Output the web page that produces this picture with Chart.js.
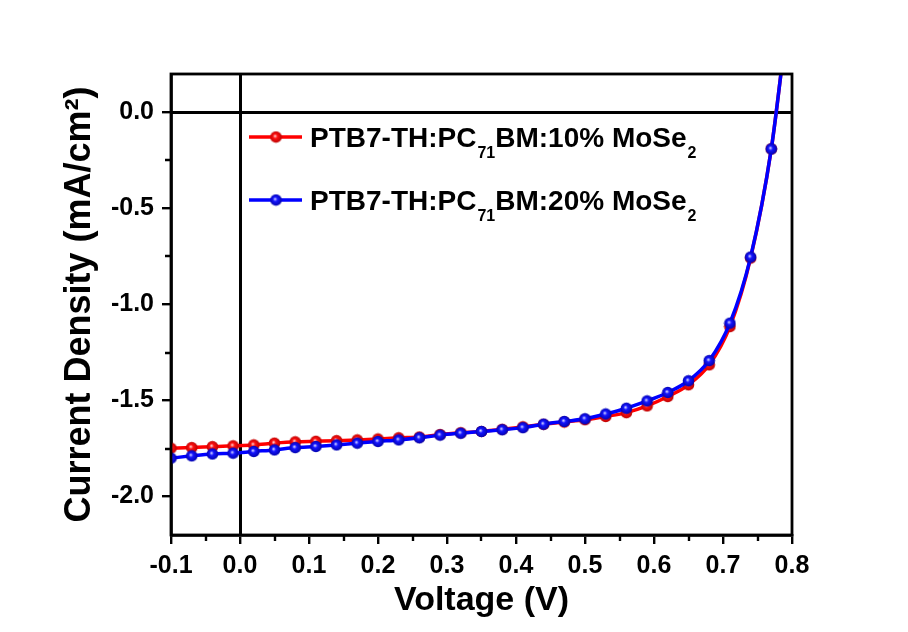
<!DOCTYPE html>
<html>
<head>
<meta charset="utf-8">
<title>J-V curves</title>
<script src="https://cdn.jsdelivr.net/npm/chart.js@4/dist/chart.umd.min.js"></script>
<style>
  html, body { margin: 0; padding: 0; background: #fff; }
  #wrap { width: 908px; height: 632px; }
</style>
</head>
<body>
<div id="wrap"><canvas id="jvChart" width="908" height="632"></canvas></div>
<script>
// Voltage sweep (V) and current density (mA/cm2) for both devices
const voltage = [-0.1, -0.07, -0.04, -0.01, 0.02, 0.05, 0.08, 0.11, 0.14, 0.17, 0.20, 0.23, 0.26, 0.29, 0.32,
  0.35, 0.38, 0.41, 0.44, 0.47, 0.50, 0.53, 0.56, 0.59, 0.62, 0.65, 0.68, 0.71, 0.74, 0.77, 0.79];
const jMoSe2_10 = [-1.748, -1.745, -1.740, -1.736, -1.731, -1.722, -1.715, -1.712, -1.709, -1.705, -1.700, -1.694,
  -1.690, -1.677, -1.668, -1.661, -1.650, -1.637, -1.624, -1.612, -1.600, -1.583, -1.563, -1.528, -1.479, -1.418,
  -1.314, -1.115, -0.758, -0.190, 0.38];
const jMoSe2_20 = [-1.800, -1.788, -1.778, -1.774, -1.765, -1.757, -1.745, -1.739, -1.731, -1.722, -1.713, -1.705,
  -1.694, -1.680, -1.670, -1.661, -1.652, -1.641, -1.623, -1.609, -1.595, -1.570, -1.540, -1.502, -1.458, -1.397,
  -1.292, -1.097, -0.753, -0.190, 0.38];

const xTicks = [-0.1, 0.0, 0.1, 0.2, 0.3, 0.4, 0.5, 0.6, 0.7, 0.8];
const yTicks = [-2.0, -1.5, -1.0, -0.5, 0.0];
const xMinor = [-0.05, 0.05, 0.15, 0.25, 0.35, 0.45, 0.55, 0.65, 0.75];
const yMinor = [-1.75, -1.25, -0.75, -0.25];

// legend text split into normal / subscript pieces
const legend10 = ['PTB7-TH:PC', '71', 'BM:10% MoSe', '2'];
const legend20 = ['PTB7-TH:PC', '71', 'BM:20% MoSe', '2'];

const FONT = '"Liberation Sans", Arial, sans-serif';

// shaded ball used as marker
function ballMarker(light, mid, dark) {
  const c = document.createElement('canvas');
  c.width = 13; c.height = 13;
  const g = c.getContext('2d');
  const grad = g.createRadialGradient(5.5, 5.5, 0.3, 6.5, 6.5, 6.5);
  grad.addColorStop(0, light);
  grad.addColorStop(0.3, mid);
  grad.addColorStop(1, dark);
  g.fillStyle = grad;
  g.beginPath();
  g.arc(6.5, 6.5, 5.8, 0, Math.PI * 2);
  g.fill();
  return c;
}
const redBall = ballMarker('#ffd0d0', '#ff1010', '#b00000');
const blueBall = ballMarker('#d0d0ff', '#1414ff', '#0000a0');

function toPoints(ys) {
  return voltage.map(function (v, i) { return { x: v, y: ys[i] }; });
}
const lastIdx = voltage.length - 1;
function markerRadius(ctx) {
  return ctx.dataIndex === lastIdx ? 0 : 6;
}

// frame, zero lines and minor ticks
const framePlugin = {
  id: 'frame',
  beforeDatasetsDraw(chart) {
    const { ctx, chartArea: a, scales } = chart;
    ctx.save();
    ctx.strokeStyle = '#000';
    ctx.lineWidth = 3;
    const x0 = Math.round(scales.x.getPixelForValue(0)) + 0.5;
    const y0 = Math.round(scales.y.getPixelForValue(0)) + 0.5;
    ctx.beginPath();
    ctx.moveTo(x0, a.top); ctx.lineTo(x0, a.bottom);
    ctx.moveTo(a.left, y0); ctx.lineTo(a.right, y0);
    ctx.stroke();
    ctx.restore();
  },
  afterDatasetsDraw(chart) {
    const { ctx, chartArea: a, scales } = chart;
    ctx.save();
    ctx.strokeStyle = '#000';
    ctx.lineWidth = 2.8;
    ctx.strokeRect(a.left, a.top, a.right - a.left, a.bottom - a.top);
    ctx.lineWidth = 2.4;
    ctx.beginPath();
    xMinor.forEach(function (v) {
      const px = Math.round(scales.x.getPixelForValue(v));
      ctx.moveTo(px, a.bottom); ctx.lineTo(px, a.bottom + 6);
    });
    yMinor.forEach(function (v) {
      const py = Math.round(scales.y.getPixelForValue(v));
      ctx.moveTo(a.left, py); ctx.lineTo(a.left - 6, py);
    });
    ctx.stroke();
    ctx.restore();
  }
};

// legend with subscripts
const legendPlugin = {
  id: 'subLegend',
  afterDraw(chart) {
    const ctx = chart.ctx;
    const rows = [
      { y: 137, color: '#ff0000', ball: redBall, parts: legend10 },
      { y: 200, color: '#0000ff', ball: blueBall, parts: legend20 }
    ];
    ctx.save();
    rows.forEach(function (r) {
      ctx.strokeStyle = r.color;
      ctx.lineWidth = 3.5;
      ctx.beginPath();
      ctx.moveTo(249, r.y); ctx.lineTo(302, r.y);
      ctx.stroke();
      ctx.drawImage(r.ball, 276 - 6.5, r.y - 6.5);
      let x = 310;
      const base = r.y + 10;
      ctx.fillStyle = '#000';
      ctx.textBaseline = 'alphabetic';
      ctx.textAlign = 'left';
      r.parts.forEach(function (p, i) {
        if (i % 2 === 0) {
          ctx.font = 'bold 28px ' + FONT;
          ctx.fillText(p, x, base);
        } else {
          ctx.font = 'bold 16px ' + FONT;
          ctx.fillText(p, x + 1, base + 11);
        }
        x += ctx.measureText(p).width + (i % 2 ? 1 : 0);
      });
    });
    ctx.restore();
  }
};

new Chart(document.getElementById('jvChart'), {
  type: 'line',
  data: {
    datasets: [{
      label: 'PTB7-TH:PC71BM:10% MoSe2',
      data: toPoints(jMoSe2_10),
      borderColor: '#ff0000',
      borderWidth: 3.5,
      pointStyle: redBall,
      pointRadius: markerRadius,
      cubicInterpolationMode: 'monotone',
      order: 2
    }, {
      label: 'PTB7-TH:PC71BM:20% MoSe2',
      data: toPoints(jMoSe2_20),
      borderColor: '#0000ff',
      borderWidth: 3.5,
      pointStyle: blueBall,
      pointRadius: markerRadius,
      cubicInterpolationMode: 'monotone',
      order: 1
    }]
  },
  options: {
    responsive: false,
    animation: false,
    events: [],
    layout: { padding: { left: 0, top: 74, right: 116, bottom: 0 } },
    plugins: { legend: { display: false }, tooltip: { enabled: false } },
    scales: {
      x: {
        type: 'linear',
        min: -0.1,
        max: 0.8,
        afterFit: function (s) { s.height = 97; },
        afterBuildTicks: function (s) { s.ticks = xTicks.map(function (v) { return { value: v }; }); },
        ticks: {
          autoSkip: false,
          maxRotation: 0,
          padding: 7,
          color: '#000',
          font: { family: FONT, size: 25, weight: 'bold' },
          callback: function (v) { return Number(v).toFixed(1); }
        },
        grid: { drawOnChartArea: false, tickLength: 9, lineWidth: 2.4, color: '#000' },
        border: { display: true, width: 2.8, color: '#000' },
        title: {
          display: true,
          text: 'Voltage (V)',
          color: '#000',
          font: { family: FONT, size: 34, weight: 'bold', lineHeight: 1.2 },
          padding: { top: 0, bottom: 11 }
        }
      },
      y: {
        type: 'linear',
        min: -2.2,
        max: 0.2,
        afterFit: function (s) { s.width = 171; },
        afterBuildTicks: function (s) { s.ticks = yTicks.map(function (v) { return { value: v }; }); },
        ticks: {
          padding: 8,
          color: '#000',
          font: { family: FONT, size: 25, weight: 'bold' },
          callback: function (v) { return Number(v).toFixed(1); }
        },
        grid: { drawOnChartArea: false, tickLength: 9, lineWidth: 2.4, color: '#000' },
        border: { display: true, width: 2.8, color: '#000' },
        title: {
          display: true,
          text: 'Current Density (mA/cm²)',
          color: '#000',
          font: { family: FONT, size: 36, weight: 'bold', lineHeight: 1.2 },
          padding: { top: 58, bottom: 0 }
        }
      }
    }
  },
  plugins: [framePlugin, legendPlugin]
});
</script>
</body>
</html>
